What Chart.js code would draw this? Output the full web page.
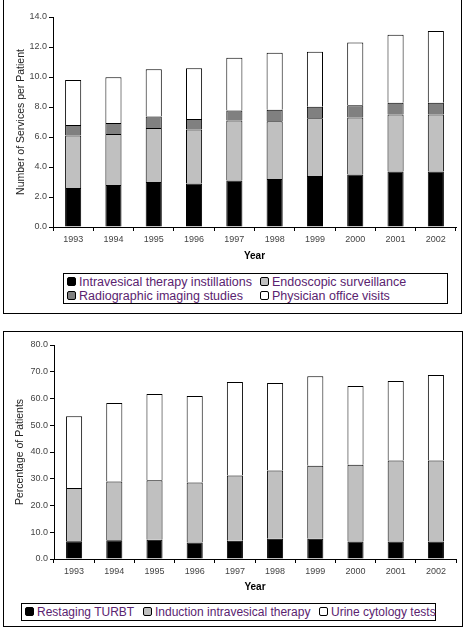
<!DOCTYPE html>
<html>
<head>
<meta charset="utf-8">
<script src="https://cdn.jsdelivr.net/npm/chart.js@4.4.1/dist/chart.umd.min.js"></script>
<style>
  body { margin: 0; background: #fff; width: 466px; height: 630px; position: relative; overflow: hidden; font-family: "Liberation Sans", Arial, sans-serif; }
  .panel { position: absolute; border: 1px solid #000; box-sizing: border-box; }
  .wrap { position: absolute; }
  .legend { position: absolute; border: 1px solid #000; box-sizing: border-box; font-size: 12.5px; color: #5a2370; }
  .item { position: absolute; white-space: nowrap; line-height: 14px; }
  .mk { display: inline-block; width: 7px; height: 7px; border: 1px solid #000; border-radius: 2px; margin-right: 3px; vertical-align: 0px; }
</style>
</head>
<body>
<div class="panel" style="left:3px; top:-2px; width:459px; height:316px;"></div>
<div class="panel" style="left:3px; top:331px; width:460px; height:296px;"></div>

<div class="wrap" style="left:0; top:0; width:466px; height:262px;"><canvas id="chartServicios"></canvas></div>
<div class="wrap" style="left:0; top:320px; width:466px; height:273px;"><canvas id="chartPacientes"></canvas></div>

<div class="legend" id="leyenda1" style="left:63px; top:273px; width:385px; height:31px;"></div>
<div class="legend" id="leyenda2" style="left:21px; top:603px; width:415px; height:18px; font-size:12px;"></div>

<script>
// datos
const anios = ['1993','1994','1995','1996','1997','1998','1999','2000','2001','2002'];

// grafico 1: servicios por paciente
const instilaciones = [2.6, 2.8, 3.0, 2.9, 3.1, 3.2, 3.4, 3.5, 3.7, 3.7];
const endoscopia    = [3.5, 3.4, 3.6, 3.6, 4.0, 3.85, 3.85, 3.8, 3.8, 3.8];
const radiografia   = [0.7, 0.73, 0.77, 0.7, 0.66, 0.76, 0.76, 0.82, 0.78, 0.78];
const consultas     = [3.0, 3.05, 3.15, 3.38, 3.52, 3.8, 3.67, 4.18, 4.53, 4.78];

// grafico 2: porcentaje de pacientes
const turbt     = [6.6, 7.0, 7.2, 6.2, 6.8, 7.6, 7.6, 6.5, 6.5, 6.5];
const induccion = [19.9, 22.0, 22.2, 22.4, 24.4, 25.5, 27.3, 28.7, 30.3, 30.3];
const citologia = [26.9, 29.3, 32.3, 32.3, 35.0, 32.7, 33.4, 29.5, 29.7, 32.0];

const series1 = [
    { label: 'Intravesical therapy instillations', data: instilaciones, color: '#000000' },
    { label: 'Endoscopic surveillance', data: endoscopia, color: '#c0c0c0' },
    { label: 'Radiographic imaging studies', data: radiografia, color: '#808080' },
    { label: 'Physician office visits', data: consultas, color: '#ffffff' }
];
const series2 = [
    { label: 'Restaging TURBT', data: turbt, color: '#000000' },
    { label: 'Induction intravesical therapy', data: induccion, color: '#c0c0c0' },
    { label: 'Urine cytology tests', data: citologia, color: '#ffffff' }
];

const fuenteTicks = { family: 'Liberation Sans', size: 9 };

function crearGrafico(id, series, max, paso, tituloY, anchoY, altoX, padTop, padTitulo) {
    return new Chart(document.getElementById(id), {
        type: 'bar',
        data: {
            labels: anios,
            datasets: series.map(s => ({
                label: s.label,
                data: s.data,
                backgroundColor: s.color,
                borderColor: '#000',
                borderWidth: 1,
                barPercentage: 0.4,
                categoryPercentage: 1
            }))
        },
        options: {
            responsive: true,
            maintainAspectRatio: false,
            animation: false,
            layout: { padding: { left: 0, right: 10, top: padTop, bottom: 0 } },
            plugins: { legend: { display: false }, tooltip: { enabled: false } },
            scales: {
                x: {
                    stacked: true,
                    afterFit: s => { s.height = altoX; },
                    border: { display: true, color: '#000', width: 1 },
                    grid: { drawOnChartArea: false, drawTicks: true, tickLength: 4, color: '#000', offset: true },
                    ticks: { color: '#444', font: fuenteTicks, padding: 3, maxRotation: 0 },
                    title: { display: true, text: 'Year', color: '#000', font: { family: 'Liberation Sans', size: 10, weight: 'bold' }, padding: { top: 0, bottom: 0 } }
                },
                y: {
                    stacked: true,
                    min: 0,
                    max: max,
                    afterFit: s => { s.width = anchoY; },
                    border: { display: true, color: '#000', width: 1 },
                    grid: { drawOnChartArea: false, drawTicks: true, tickLength: 4, color: '#000' },
                    ticks: { stepSize: paso, color: '#444', font: fuenteTicks, padding: 2, callback: v => v.toFixed(1) },
                    title: { display: true, text: tituloY, color: '#222', font: { family: 'Liberation Sans', size: 10.5 }, padding: { top: padTitulo, bottom: 0 } }
                }
            }
        }
    });
}

function crearLeyenda(id, series, posiciones) {
    const cont = document.getElementById(id);
    series.forEach((s, i) => {
        const el = document.createElement('div');
        el.className = 'item';
        el.style.left = posiciones[i][0] + 'px';
        el.style.top = posiciones[i][1] + 'px';
        el.innerHTML = `<span class="mk" style="background:${s.color}"></span>${s.label}`;
        cont.appendChild(el);
    });
}

crearGrafico('chartServicios', series1, 14, 2, 'Number of Services per Patient', 53, 35, 17, 15);
crearGrafico('chartPacientes', series2, 80, 10, 'Percentage of Patients', 54, 34, 25, 14);

crearLeyenda('leyenda1', [series1[0], series1[1], series1[2], series1[3]],
    [[3, 1], [196, 1], [3, 15], [196, 15]]);
crearLeyenda('leyenda2', series2, [[3, 1], [121, 1], [297, 1]]);
</script>
</body>
</html>
